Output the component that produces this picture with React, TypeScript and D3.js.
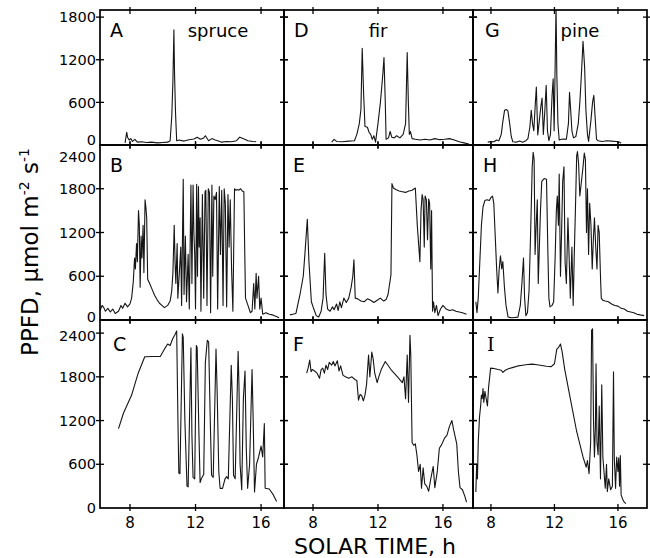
import React from 'react';
import * as d3 from 'd3';

type Pt = [number, number];

const xTicks = [8, 12, 16];
const yTicksTop = [0, 600, 1200, 1800];
const yTicksMid = [0, 600, 1200, 1800, 2400];
const yTicksBot = [0, 600, 1200, 1800, 2400];
const speciesNames = ['spruce', 'fir', 'pine'];
const panelLetters = [['A', 'B', 'C'], ['D', 'E', 'F'], ['G', 'H', 'I']];

// spruce
const panelA: Pt[] = [[7.7,30],[7.8,180],[7.85,110],[7.95,70],[8.05,90],[8.15,50],[8.3,80],[8.45,40],[8.7,45],[9.0,35],[9.3,40],[9.7,30],[10.0,35],[10.3,40],[10.45,60],[10.55,400],[10.62,900],[10.68,1620],[10.72,1000],[10.78,450],[10.85,60],[11.0,70],[11.3,55],[11.6,75],[11.9,85],[12.1,110],[12.3,80],[12.5,100],[12.6,130],[12.8,60],[13.0,90],[13.2,70],[13.4,55],[13.6,40],[13.9,50],[14.2,45],[14.5,60],[14.7,110],[14.9,90],[15.2,60],[15.5,50],[15.7,45]];
const panelB: Pt[] = [[6.17,130],[6.3,200],[6.4,170],[6.5,120],[6.65,160],[6.8,110],[6.95,150],[7.1,90],[7.3,120],[7.45,200],[7.55,160],[7.7,230],[7.85,180],[8.0,220],[8.1,300],[8.2,520],[8.28,850],[8.33,700],[8.4,1050],[8.45,800],[8.52,1500],[8.57,1300],[8.62,450],[8.68,1150],[8.73,850],[8.8,1300],[8.85,650],[8.92,1650],[8.97,1550],[9.02,1400],[9.08,560],[9.2,500],[9.35,420],[9.5,340],[9.65,280],[9.8,230],[9.95,200],[10.1,170],[10.3,200],[10.45,260],[10.55,400],[10.62,650],[10.7,1300],[10.75,800],[10.8,500],[10.88,1050],[10.92,300],[11.0,600],[11.1,1000],[11.15,200],[11.25,1930],[11.3,350],[11.38,1150],[11.45,250],[11.55,900],[11.62,150],[11.72,1850],[11.78,500],[11.85,1850],[11.9,1200],[11.95,900],[12.0,150],[12.07,1860],[12.12,600],[12.18,1830],[12.22,1000],[12.28,1400],[12.33,120],[12.42,1720],[12.5,300],[12.58,1760],[12.63,1780],[12.7,200],[12.78,1800],[12.85,1750],[12.92,100],[13.0,1850],[13.05,600],[13.12,1700],[13.2,1650],[13.28,1750],[13.35,150],[13.45,1830],[13.52,900],[13.6,1780],[13.68,200],[13.75,1800],[13.82,1600],[13.9,180],[13.98,1720],[14.05,1000],[14.12,1650],[14.2,700],[14.28,120],[14.38,1800],[14.45,1780],[14.55,1790],[14.65,1780],[14.75,1800],[14.85,1770],[14.95,1760],[15.0,1000],[15.05,300],[15.2,200],[15.35,100],[15.45,120],[15.55,500],[15.62,150],[15.7,640],[15.75,300],[15.85,600],[15.92,150],[16.0,300],[16.1,80],[16.3,100],[16.5,80],[16.7,70],[16.9,50],[17.1,30]];
const panelC: Pt[] = [[7.3,1090],[7.6,1300],[8.1,1550],[8.5,1850],[8.9,2075],[9.4,2080],[9.85,2080],[10.1,2180],[10.3,2250],[10.45,2230],[10.6,2320],[10.75,2380],[10.85,2430],[10.92,1300],[10.98,480],[11.05,470],[11.2,2390],[11.25,2340],[11.35,1200],[11.48,300],[11.55,290],[11.72,2200],[11.78,1000],[11.85,420],[11.95,400],[12.05,2230],[12.1,2200],[12.2,1100],[12.28,350],[12.35,400],[12.5,460],[12.6,2000],[12.72,2300],[12.8,2280],[12.9,1200],[12.98,450],[13.08,420],[13.25,2180],[13.32,1600],[13.42,500],[13.5,270],[13.65,270],[13.8,400],[13.9,430],[14.0,400],[14.18,1960],[14.25,1500],[14.32,450],[14.42,400],[14.6,2150],[14.65,1700],[14.72,600],[14.82,250],[14.92,1500],[15.02,1880],[15.1,800],[15.18,270],[15.3,600],[15.45,1900],[15.52,1200],[15.6,220],[15.72,600],[15.85,700],[16.0,850],[16.1,700],[16.2,1160],[16.25,270],[16.5,260],[16.75,180],[16.95,90]];
// fir
const panelD: Pt[] = [[9.15,40],[9.3,80],[9.45,50],[9.8,45],[10.2,55],[10.55,60],[10.7,150],[10.85,300],[10.95,500],[11.03,1360],[11.12,700],[11.2,260],[11.35,250],[11.45,180],[11.55,150],[11.65,80],[11.75,130],[11.85,40],[12.0,300],[12.15,600],[12.3,1000],[12.37,1230],[12.45,600],[12.5,80],[12.65,100],[12.75,190],[12.85,110],[13.0,100],[13.15,130],[13.35,100],[13.55,150],[13.7,300],[13.8,1300],[13.87,600],[13.93,150],[14.0,190],[14.1,90],[14.3,80],[14.6,70],[14.9,80],[15.2,70],[15.5,90],[15.8,75],[16.1,80],[16.4,90],[16.7,70],[17.0,45],[17.3,30],[17.6,15]];
const panelE: Pt[] = [[6.58,70],[6.75,80],[6.95,90],[7.2,350],[7.4,600],[7.5,900],[7.65,1380],[7.75,800],[7.9,250],[8.05,150],[8.2,60],[8.35,40],[8.5,120],[8.62,300],[8.72,915],[8.8,350],[8.9,150],[9.05,120],[9.2,180],[9.3,140],[9.45,220],[9.55,130],[9.65,250],[9.75,170],[9.9,300],[10.05,240],[10.2,300],[10.35,450],[10.45,600],[10.52,825],[10.6,300],[10.75,290],[10.95,260],[11.15,250],[11.35,290],[11.55,270],[11.75,240],[11.95,270],[12.15,300],[12.35,260],[12.5,280],[12.62,350],[12.72,500],[12.8,620],[12.86,1870],[12.95,1810],[13.1,1790],[13.3,1770],[13.5,1760],[13.7,1750],[13.9,1770],[14.1,1780],[14.3,1810],[14.42,1300],[14.5,1050],[14.58,800],[14.65,1500],[14.72,1720],[14.78,1650],[14.85,1000],[14.9,1700],[14.98,1650],[15.05,1100],[15.12,1660],[15.18,1600],[15.25,700],[15.3,1500],[15.36,120],[15.42,250],[15.5,100],[15.6,200],[15.7,60],[15.85,150],[16.0,200],[16.2,150],[16.4,130],[16.6,140],[16.8,120],[17.0,110],[17.2,100],[17.45,80]];
const panelF: Pt[] = [[7.61,1850],[7.7,1920],[7.8,2030],[7.88,1870],[7.95,1900],[8.1,1880],[8.25,1850],[8.4,1780],[8.5,1900],[8.6,1920],[8.7,1850],[8.8,1960],[8.9,1900],[9.0,2000],[9.15,1960],[9.25,2010],[9.35,1950],[9.5,2020],[9.6,1880],[9.7,1950],[9.85,1820],[10.0,1800],[10.2,1780],[10.4,1800],[10.6,1760],[10.7,1750],[10.8,1480],[10.9,1560],[11.0,1540],[11.1,1470],[11.2,1550],[11.3,1700],[11.42,2100],[11.5,1800],[11.62,2140],[11.7,2050],[11.8,1850],[11.95,1720],[12.05,1800],[12.2,1900],[12.45,2010],[12.8,1900],[13.2,1800],[13.5,1720],[13.6,1800],[13.7,1500],[13.8,2100],[13.88,1450],[13.97,2370],[14.02,2100],[14.1,900],[14.2,860],[14.3,880],[14.4,720],[14.5,500],[14.6,600],[14.68,270],[14.78,550],[14.88,330],[15.0,300],[15.12,230],[15.25,400],[15.4,570],[15.5,280],[15.65,500],[15.78,820],[15.92,870],[16.1,960],[16.25,1000],[16.4,1120],[16.55,1200],[16.68,1050],[16.85,880],[16.95,500],[17.05,280],[17.2,250],[17.35,160],[17.45,80]];
// pine
const panelG: Pt[] = [[7.8,40],[8.0,50],[8.2,45],[8.35,70],[8.5,60],[8.65,150],[8.75,330],[8.86,490],[8.97,500],[9.07,480],[9.18,300],[9.28,120],[9.38,45],[9.6,40],[9.8,55],[10.0,40],[10.2,60],[10.33,90],[10.45,250],[10.54,490],[10.62,300],[10.7,200],[10.8,600],[10.86,815],[10.95,140],[11.05,350],[11.15,550],[11.22,660],[11.3,150],[11.4,500],[11.48,840],[11.56,200],[11.65,60],[11.75,150],[11.85,700],[11.92,930],[11.98,200],[12.05,1200],[12.1,1950],[12.15,1000],[12.22,300],[12.3,70],[12.45,80],[12.6,85],[12.75,80],[12.88,300],[12.95,740],[13.02,500],[13.1,200],[13.2,100],[13.35,120],[13.5,300],[13.6,600],[13.7,1000],[13.8,1460],[13.9,1100],[13.98,500],[14.08,150],[14.15,50],[14.3,350],[14.4,600],[14.48,700],[14.56,400],[14.65,80],[14.75,60],[15.0,50],[15.3,60],[15.6,55],[15.9,50],[16.1,40],[16.2,25]];
const panelH: Pt[] = [[7.05,250],[7.12,100],[7.2,300],[7.3,800],[7.4,1300],[7.5,1550],[7.62,1640],[7.75,1650],[7.9,1640],[8.0,1680],[8.1,1700],[8.18,1600],[8.28,1100],[8.36,700],[8.44,370],[8.52,700],[8.6,880],[8.68,700],[8.75,800],[8.85,450],[8.95,200],[9.08,40],[9.3,30],[9.5,35],[9.7,40],[9.85,200],[9.95,500],[10.05,850],[10.12,300],[10.2,60],[10.3,100],[10.4,400],[10.5,1200],[10.6,2100],[10.66,2300],[10.72,2200],[10.78,900],[10.85,1300],[10.92,1650],[10.98,500],[11.05,1000],[11.12,1500],[11.2,1900],[11.35,1940],[11.5,1930],[11.58,1000],[11.65,300],[11.72,180],[11.85,200],[11.95,250],[12.05,900],[12.12,1500],[12.18,1700],[12.25,1300],[12.3,2000],[12.38,600],[12.45,1200],[12.52,1900],[12.6,2100],[12.67,800],[12.75,500],[12.85,1400],[12.92,900],[13.0,300],[13.1,1000],[13.18,200],[13.25,900],[13.32,1500],[13.4,2250],[13.45,2310],[13.52,2150],[13.6,1700],[13.7,1900],[13.8,2100],[13.88,2290],[13.95,2200],[14.02,1200],[14.08,1800],[14.15,900],[14.22,1600],[14.3,1300],[14.38,700],[14.45,1100],[14.52,1400],[14.6,1000],[14.68,700],[14.75,1300],[14.82,1200],[14.9,600],[14.95,300],[15.05,270],[15.2,260],[15.4,250],[15.6,220],[15.8,200],[16.0,190],[16.2,160],[16.4,150],[16.6,120],[16.8,110],[17.0,100],[17.2,80],[17.4,70],[17.65,60]];
const panelI: Pt[] = [[7.05,220],[7.1,600],[7.15,400],[7.2,900],[7.28,1250],[7.35,1400],[7.4,1550],[7.45,1500],[7.5,1640],[7.55,1450],[7.62,1600],[7.7,1500],[7.78,1400],[7.85,1650],[7.98,1920],[8.2,1915],[8.45,1900],[8.65,1890],[8.75,1860],[8.9,1890],[9.1,1910],[9.4,1930],[9.7,1950],[10.0,1960],[10.3,1970],[10.6,1975],[10.9,1965],[11.2,1955],[11.5,1945],[11.8,1940],[12.0,1980],[12.15,2180],[12.25,2200],[12.38,2250],[12.48,2150],[12.65,1900],[13.0,1500],[13.4,1050],[13.8,700],[14.0,560],[14.08,650],[14.18,470],[14.28,900],[14.34,2440],[14.4,2460],[14.46,1200],[14.52,700],[14.58,1100],[14.62,1980],[14.68,900],[14.75,730],[14.82,1400],[14.9,400],[14.98,1690],[15.05,700],[15.12,500],[15.2,270],[15.28,600],[15.33,225],[15.42,400],[15.54,250],[15.65,300],[15.72,1870],[15.77,690],[15.85,270],[15.92,700],[16.0,500],[16.05,690],[16.1,300],[16.15,720],[16.2,180],[16.3,120],[16.4,80],[16.5,60]];

const panels: Pt[][][] = [
  [panelA, panelB, panelC],
  [panelD, panelE, panelF],
  [panelG, panelH, panelI],
];
const yTicksByRow = [yTicksTop, yTicksMid, yTicksBot];

// layout
const colPx = [[100, 284], [284, 473], [473, 647]];
const colDomain = [[6.17, 17.4], [6.215, 17.85], [6.87, 17.83]];
const rowPx = [[10, 145], [145, 320], [320, 508]];
const rowDomain = [[0, 1900], [0, 2400], [0, 2580]];
const letterPos = [
  [[110, 37], [110, 172], [113, 351]],
  [[294, 37], [293, 172], [293, 351]],
  [[485, 37], [483, 172], [487, 351]],
];
const speciesX = [218, 378, 580];

const FONT = '"DejaVu Sans", Verdana, sans-serif';

export default function App() {
  const elems: React.ReactNode[] = [];
  const defs: React.ReactNode[] = [];
  for (let c = 0; c < 3; c++) {
    for (let r = 0; r < 3; r++) {
      const xs = d3.scaleLinear().domain(colDomain[c]).range(colPx[c]);
      const ys = d3.scaleLinear().domain(rowDomain[r]).range([rowPx[r][1], rowPx[r][0]]);
      const x0 = colPx[c][0], x1 = colPx[c][1];
      const y0 = rowPx[r][0], y1 = rowPx[r][1];
      const id = `clip-${c}-${r}`;
      defs.push(
        <clipPath id={id} key={id}>
          <rect x={x0} y={y0} width={x1 - x0} height={y1 - y0} />
        </clipPath>
      );
      const line = d3.line<Pt>().x(d => xs(d[0])).y(d => ys(d[1]));
      elems.push(
        <path key={`d-${c}-${r}`} d={line(panels[c][r]) || ''} fill="none" stroke="#151515"
          strokeWidth={1.1} strokeLinejoin="round" clipPath={`url(#${id})`} />
      );
      xTicks.forEach(t => {
        const x = xs(t);
        elems.push(<line key={`xt-${c}-${r}-${t}`} x1={x} x2={x} y1={y0 - 3} y2={y0 + 4} stroke="#000" strokeWidth={1.3} />);
        elems.push(<line key={`xb-${c}-${r}-${t}`} x1={x} x2={x} y1={y1 - 4} y2={y1 + 3} stroke="#000" strokeWidth={1.3} />);
      });
      yTicksByRow[r].forEach(v => {
        const y = ys(v);
        if (Math.abs(y - y0) < 3 || Math.abs(y - y1) < 3) return;
        elems.push(<line key={`yl-${c}-${r}-${v}`} x1={x0 - 4} x2={x0 + 4} y1={y} y2={y} stroke="#000" strokeWidth={1.3} />);
        elems.push(<line key={`yr-${c}-${r}-${v}`} x1={x1 - 4} x2={x1 + 4} y1={y} y2={y} stroke="#000" strokeWidth={1.3} />);
      });
      elems.push(<rect key={`f-${c}-${r}`} x={x0} y={y0} width={x1 - x0} height={y1 - y0} fill="none" stroke="#000" strokeWidth={1.7} />);
      const lp = letterPos[c][r];
      const letter = panelLetters[c][r];
      elems.push(
        <text key={`l-${c}-${r}`} x={lp[0]} y={lp[1]} fontSize={19}
          fontFamily={letter === 'I' ? '"DejaVu Serif", serif' : FONT} fill="#000">{letter}</text>
      );
      if (c === 0) {
        yTicksByRow[r].forEach(v => {
          let y = ys(v);
          if (r === 0 && v === 0) y -= 5;
          if (r === 1 && v === 2400) y += 12;
          if (r === 1 && v === 0) y -= 3;
          if (r === 2 && v === 2400) y += 3;
          elems.push(
            <text key={`yl-lab-${r}-${v}`} x={96} y={y} dy="0.36em" textAnchor="end" fontSize={14.5}
              fontFamily={FONT} fill="#000">{v}</text>
          );
        });
      }
      if (r === 2) {
        xTicks.forEach(t => {
          elems.push(
            <text key={`xl-lab-${c}-${t}`} x={xs(t)} y={528} textAnchor="middle" fontSize={15}
              fontFamily={FONT} fill="#000">{t}</text>
          );
        });
      }
    }
    elems.push(
      <text key={`sp-${c}`} x={speciesX[c]} y={37} textAnchor="middle" fontSize={18}
        fontFamily={FONT} fill="#000">{speciesNames[c]}</text>
    );
  }

  return (
    <svg width={650} height={558} style={{ position: 'absolute', left: 0, top: 0, background: '#fff' }}>
      <defs>{defs}</defs>
      <rect x={0} y={0} width={650} height={558} fill="#fff" />
      {elems}
      <text x={375} y={554} textAnchor="middle" fontSize={22} fontFamily={FONT} fill="#000">SOLAR TIME, h</text>
      <text transform="translate(38,252) rotate(-90)" textAnchor="middle" fontSize={23} fontFamily={FONT} fill="#000">
        PPFD, μmol m<tspan dy="-9" fontSize={14}>-2</tspan><tspan dy="9"> s</tspan><tspan dy="-9" fontSize={14}>-1</tspan>
      </text>
    </svg>
  );
}
